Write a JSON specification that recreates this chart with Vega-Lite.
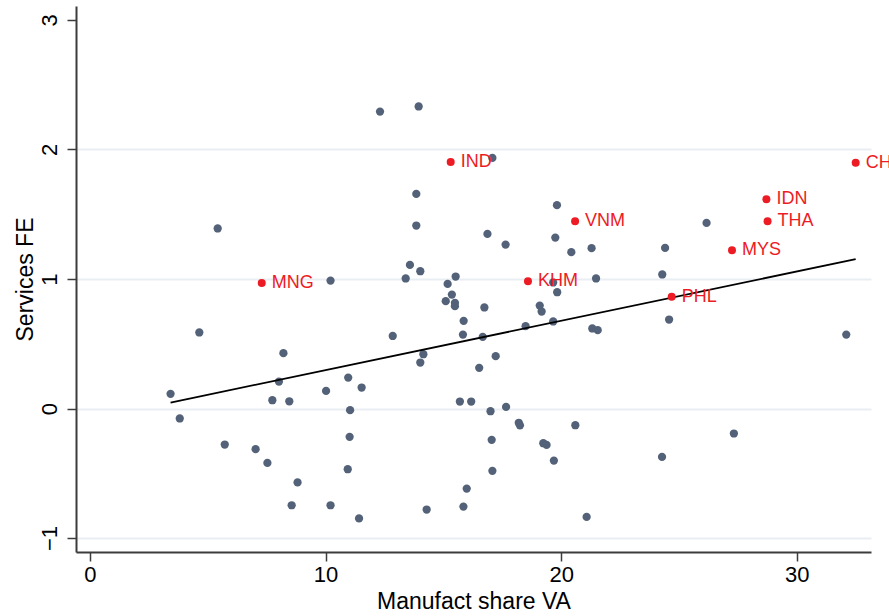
{
  "$schema": "https://vega.github.io/schema/vega-lite/v6.json",
  "width": 795,
  "height": 546,
  "autosize": {"type": "none"},
  "padding": {"left": 76, "top": 6, "right": 18, "bottom": 64},
  "background": "white",
  "config": {"view": {"stroke": null}, "font": "Liberation Sans"},
  "datasets": {
    "gray": [
      {"x": 3.42, "y": 0.113}, {"x": 3.81, "y": -0.077}, {"x": 4.64, "y": 0.587}, {"x": 5.42, "y": 1.39},
      {"x": 5.72, "y": -0.278}, {"x": 7.03, "y": -0.314}, {"x": 7.53, "y": -0.42}, {"x": 7.74, "y": 0.064},
      {"x": 8.02, "y": 0.208}, {"x": 8.21, "y": 0.427}, {"x": 8.46, "y": 0.056}, {"x": 8.56, "y": -0.747},
      {"x": 8.81, "y": -0.571}, {"x": 10.02, "y": 0.136}, {"x": 10.21, "y": 0.988}, {"x": 10.21, "y": -0.747},
      {"x": 10.94, "y": -0.469}, {"x": 10.96, "y": 0.239}, {"x": 11.02, "y": -0.219}, {"x": 11.04, "y": -0.013},
      {"x": 11.42, "y": -0.849}, {"x": 11.53, "y": 0.162}, {"x": 12.31, "y": 2.293}, {"x": 12.85, "y": 0.56},
      {"x": 13.4, "y": 1.004}, {"x": 13.58, "y": 1.109}, {"x": 13.85, "y": 1.657}, {"x": 13.85, "y": 1.413},
      {"x": 13.95, "y": 2.332}, {"x": 14.02, "y": 1.06}, {"x": 14.02, "y": 0.355}, {"x": 14.15, "y": 0.419},
      {"x": 14.29, "y": -0.78}, {"x": 15.1, "y": 0.829}, {"x": 15.18, "y": 0.962}, {"x": 15.36, "y": 0.88},
      {"x": 15.49, "y": 0.816}, {"x": 15.49, "y": 0.79}, {"x": 15.52, "y": 1.019}, {"x": 15.7, "y": 0.054},
      {"x": 15.83, "y": 0.571}, {"x": 15.85, "y": -0.757}, {"x": 15.86, "y": 0.677}, {"x": 15.99, "y": -0.618},
      {"x": 16.18, "y": 0.054}, {"x": 16.52, "y": 0.314}, {"x": 16.67, "y": 0.553}, {"x": 16.74, "y": 0.78},
      {"x": 16.87, "y": 1.348}, {"x": 17.0, "y": -0.021}, {"x": 17.05, "y": -0.242}, {"x": 17.08, "y": 1.935},
      {"x": 17.08, "y": -0.481}, {"x": 17.22, "y": 0.404}, {"x": 17.64, "y": 1.266}, {"x": 17.66, "y": 0.012},
      {"x": 18.2, "y": -0.11}, {"x": 18.25, "y": -0.13}, {"x": 18.49, "y": 0.636}, {"x": 19.09, "y": 0.795},
      {"x": 19.17, "y": 0.749}, {"x": 19.24, "y": -0.268}, {"x": 19.38, "y": -0.281}, {"x": 19.66, "y": 0.973},
      {"x": 19.66, "y": 0.672}, {"x": 19.69, "y": -0.402}, {"x": 19.75, "y": 1.32}, {"x": 19.82, "y": 1.57},
      {"x": 19.83, "y": 0.898}, {"x": 20.43, "y": 1.207}, {"x": 20.6, "y": -0.129}, {"x": 21.08, "y": -0.837},
      {"x": 21.29, "y": 1.238}, {"x": 21.32, "y": 0.618}, {"x": 21.48, "y": 1.004}, {"x": 21.55, "y": 0.605},
      {"x": 24.28, "y": -0.374}, {"x": 24.29, "y": 1.035}, {"x": 24.41, "y": 1.24}, {"x": 24.58, "y": 0.687},
      {"x": 26.17, "y": 1.433}, {"x": 27.33, "y": -0.193}, {"x": 32.1, "y": 0.571}
    ],
    "red": [
      {"x": 7.29, "y": 0.97, "label": "MNG"},
      {"x": 15.31, "y": 1.904, "label": "IND"},
      {"x": 18.59, "y": 0.983, "label": "KHM"},
      {"x": 20.59, "y": 1.446, "label": "VNM"},
      {"x": 24.69, "y": 0.862, "label": "PHL"},
      {"x": 27.25, "y": 1.222, "label": "MYS"},
      {"x": 28.71, "y": 1.616, "label": "IDN"},
      {"x": 28.76, "y": 1.446, "label": "THA"},
      {"x": 32.5, "y": 1.897, "label": "CHN"}
    ],
    "fit": [{"x": 3.42, "y": 0.046}, {"x": 32.5, "y": 1.153}]
  },
  "encoding": {
    "x": {
      "field": "x", "type": "quantitative",
      "scale": {"domain": [-0.594, 33.15], "nice": false, "zero": false},
      "axis": {
        "values": [0, 10, 20, 30], "title": "Manufact share VA", "grid": false,
        "domainColor": "#3c3c3c", "domainWidth": 2, "tickColor": "#3c3c3c", "tickWidth": 1.5, "tickSize": 9,
        "labelFontSize": 22, "labelColor": "black", "labelPadding": 3,
        "titleFontSize": 23, "titleFontWeight": "normal", "titleColor": "black",
        "titleY": 56, "titleBaseline": "alphabetic", "titleX": 397.5, "titleAlign": "center"
      }
    },
    "y": {
      "field": "y", "type": "quantitative",
      "scale": {"domain": [-1.108, 3.108], "nice": false, "zero": false},
      "axis": {
        "values": [-1, 0, 1, 2, 3], "title": "Services FE", "grid": true,
        "gridColor": {"condition": {"test": "datum.value === 3", "value": "rgba(0,0,0,0)"}, "value": "#e9eef3"},
        "gridWidth": 2,
        "domainColor": "#3c3c3c", "domainWidth": 2, "tickColor": "#3c3c3c", "tickWidth": 1.5, "tickSize": 9,
        "labelFontSize": 22, "labelColor": "black", "labelAngle": -90, "labelAlign": "center",
        "labelBaseline": "alphabetic", "labelPadding": 11,
        "titleFontSize": 23, "titleFontWeight": "normal", "titleColor": "black",
        "titleAngle": -90, "titleX": -44, "titleY": 273, "titleAlign": "center", "titleBaseline": "alphabetic"
      }
    }
  },
  "layer": [
    {"data": {"name": "gray"}, "mark": {"type": "circle", "size": 68, "color": "#536278", "opacity": 1}},
    {"data": {"name": "fit"}, "mark": {"type": "line", "color": "black", "strokeWidth": 1.8}},
    {"data": {"name": "red"}, "mark": {"type": "circle", "size": 64, "color": "#ed1c24", "opacity": 1}},
    {"data": {"name": "red"}, "mark": {"type": "text", "align": "left", "baseline": "middle", "dx": 10, "fontSize": 18, "color": "#ed1c24"},
     "encoding": {"text": {"field": "label", "type": "nominal"}}}
  ]
}
